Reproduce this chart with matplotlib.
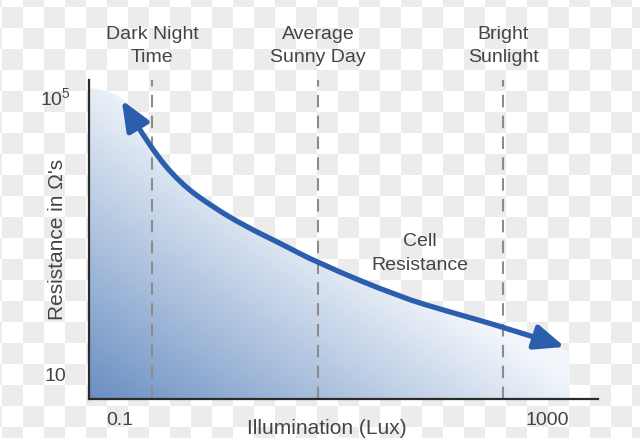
import numpy as np
import matplotlib
matplotlib.use("Agg")
import matplotlib.pyplot as plt
import matplotlib.transforms as mtransforms
from matplotlib.colors import LinearSegmentedColormap
from matplotlib.image import AxesImage
from matplotlib.patches import FancyArrowPatch, PathPatch
from matplotlib.path import Path
from matplotlib.ticker import NullLocator

plt.rcParams["font.family"] = ["Liberation Sans", "DejaVu Sans"]
plt.rcParams["mathtext.fontset"] = "custom"
plt.rcParams["mathtext.rm"] = "Liberation Sans"

# light levels marked along the top (lux)
zone_labels = ["Dark Night\nTime", "Average\nSunny Day", "Bright\nSunlight"]
zone_lux = [0.2, 7.2, 390]

# resistance curve (lux, ohms)
curve_lux = [0.104, 0.191, 0.365, 0.743, 1.55, 3.15, 7.16, 42, 123, 387, 1476]
curve_ohm = [8.8e4, 1.86e4, 5660, 2560, 1320, 780, 404, 131, 80, 48.8, 25.2]

# top edge of the shaded area under the curve
fill_lux = [0.0513, 0.11, 0.191, 0.365, 0.743, 1.55, 3.15, 7.16, 42, 123, 387, 1640]
fill_ohm = [1.3e5, 1.25e5, 1.86e4, 5660, 2560, 1320, 780, 404, 131, 80, 48.8, 21.4]

x_ticks = [0.1, 1000]
x_tick_labels = ["0.1", "1000"]
y_ticks = [10, 1e5]
y_tick_labels = ["10", r"$\mathregular{10^5}$"]

x_range = (0.0513, 3006)
y_range = (4.5, 1.7e5)

text_color = "#444444"
arrow_color = "#2b5fad"


def smooth_path(xs, ys):
    # quadratic bezier through the midpoints (midpoints taken in log space)
    pts = np.log10(np.column_stack([xs, ys]))
    verts, codes = [pts[0]], [Path.MOVETO]
    for i in range(1, len(pts) - 1):
        end = pts[i + 1] if i == len(pts) - 2 else (pts[i] + pts[i + 1]) / 2
        verts += [pts[i], end]
        codes += [Path.CURVE3, Path.CURVE3]
    return 10 ** np.array(verts), codes


fig = plt.figure(figsize=(6.4, 4.38), dpi=100)

# checkerboard backdrop (transparent png look)
yy, xx = np.mgrid[0:438, 0:640]
checker = (((xx - 2) // 21 + (yy - 7) // 21) % 2 == 0)
fig.figimage(np.where(checker, 0.925, 1.0), cmap="gray", vmin=0, vmax=1, zorder=-1)

ax = fig.add_axes([0.139, 0.089, 0.795, 0.728])
ax.set_zorder(1)
ax.patch.set_visible(False)
ax.set_xscale("log")
ax.set_yscale("log")

# gradient fill under the curve
shade_map = LinearSegmentedColormap.from_list("shade", ["#6a8fc2", "#f2f6fb"])
gx, gy = np.meshgrid(np.linspace(0, 1, 256), np.linspace(0, 1, 256))
shade = np.clip(1.0 * gx + 0.95 * gy, 0, 1)
im = AxesImage(ax, cmap=shade_map, extent=(0, 1, 0, 1), origin="lower",
               transform=ax.transAxes, interpolation="bilinear")
im.set_data(shade)
im.set_clim(0, 1)
im.set_zorder(1)
ax.add_image(im)

fv, fc = smooth_path(fill_lux, fill_ohm)
fv = np.vstack([fv, [[fill_lux[-1], y_range[0]], [fill_lux[0], y_range[0]], fv[0]]])
fc = fc + [Path.LINETO, Path.LINETO, Path.CLOSEPOLY]
clip = PathPatch(Path(fv, fc), facecolor="none", edgecolor="none")
ax.add_patch(clip)
im.set_clip_path(clip)

for lux in zone_lux:
    ax.axvline(lux, color="#8c8c8c", lw=1.5, dashes=(6, 4), zorder=2)

label_trans = mtransforms.blended_transform_factory(ax.transData, ax.transAxes)
for lux, label in zip(zone_lux, zone_labels):
    ax.text(lux, 1.108, label, transform=label_trans, ha="center", va="center",
            fontsize=14, color=text_color, linespacing=1.45)

cv, cc = smooth_path(curve_lux, curve_ohm)
arrow = FancyArrowPatch(path=Path(cv, cc),
                        arrowstyle="<|-|>,head_length=0.6,head_width=0.25",
                        mutation_scale=30, lw=3.8, color=arrow_color,
                        transform=ax.transData, zorder=4)
ax.add_patch(arrow)

ax.text(65, 552, "Cell\nResistance", ha="center", va="center", fontsize=14,
        color=text_color, linespacing=1.5, zorder=5)

ax.set_xlim(*x_range)
ax.set_ylim(*y_range)

ax.set_xticks(x_ticks)
ax.set_xticklabels(x_tick_labels)
ax.set_yticks(y_ticks)
ax.set_yticklabels(y_tick_labels, ha="center")
ax.xaxis.set_minor_locator(NullLocator())
ax.yaxis.set_minor_locator(NullLocator())
ax.tick_params(axis="x", length=0, pad=9, labelsize=14, labelcolor=text_color)
ax.tick_params(axis="y", length=0, pad=24, labelsize=14, labelcolor=text_color)

ax.text(0.468, -0.091, "Illumination (Lux)", transform=ax.transAxes,
        ha="center", va="center", fontsize=15, color=text_color)
ax.text(-0.061, 0.5, "Resistance in \u03a9's", transform=ax.transAxes, rotation=90,
        ha="center", va="center", fontsize=15, color=text_color)

for side in ("top", "right"):
    ax.spines[side].set_visible(False)
for side in ("left", "bottom"):
    ax.spines[side].set_color("#2b2b2b")
    ax.spines[side].set_linewidth(1.6)
    ax.spines[side].set_zorder(6)

fig.savefig("out.png", dpi=100, facecolor="white")
